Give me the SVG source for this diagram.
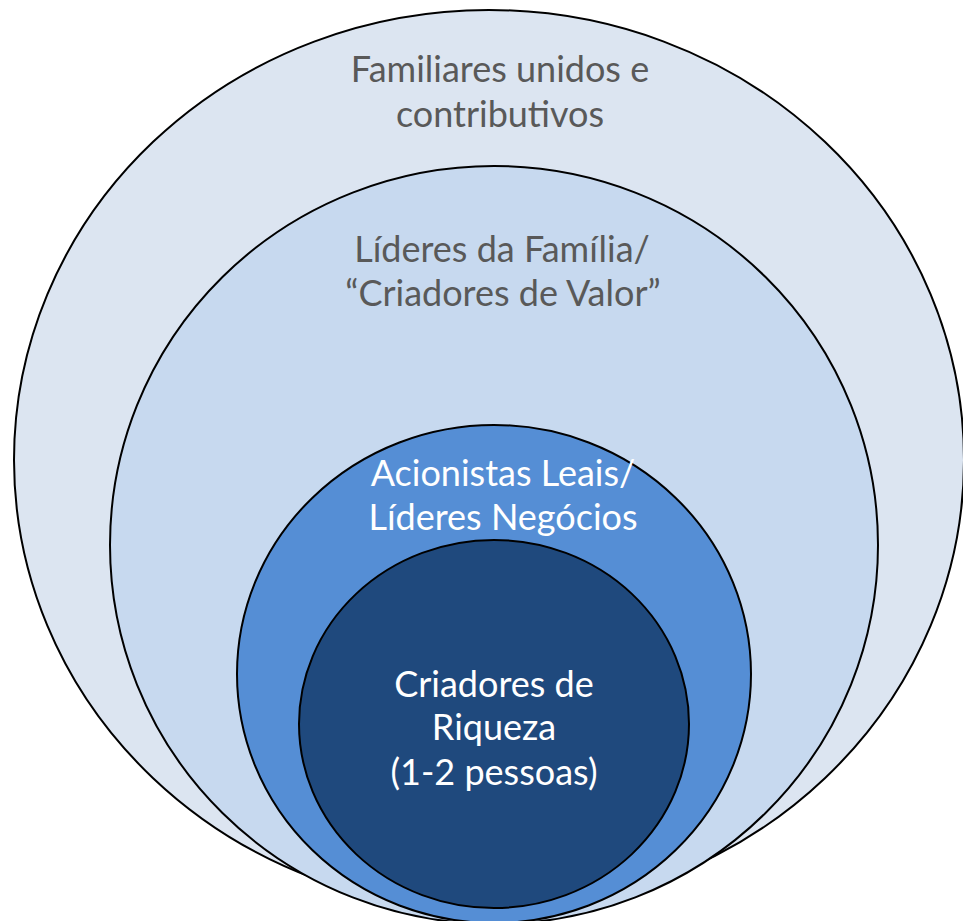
<svg xmlns="http://www.w3.org/2000/svg" width="963" height="921" viewBox="0 0 963 921">
<style>
.ring{stroke:#000;stroke-width:2}
.t{font-family:Lato,"Open Sans","Noto Sans",sans-serif;font-size:36px;text-anchor:middle}
.g{fill:#595959}
.w{fill:#ffffff}
</style>
<rect width="963" height="921" fill="#ffffff"/>
<g id="familiares">
<ellipse class="ring" cx="489" cy="460" rx="475" ry="450" fill="#DCE5F1"/>
<text class="t g" x="500" y="82">Familiares unidos e</text>
<text class="t g" x="500" y="127">contributivos</text>
</g>
<g id="lideres-familia">
<ellipse class="ring" cx="494" cy="545" rx="384" ry="379" fill="#C7D9EF"/>
<text class="t g" x="502" y="262">Líderes da Família/</text>
<text class="t g" x="503" y="306">“Criadores de Valor”</text>
</g>
<g id="acionistas">
<ellipse class="ring" cx="494" cy="674" rx="257" ry="249" fill="#558ED5"/>
<text class="t w" x="503" y="486">Acionistas Leais/</text>
<text class="t w" x="503" y="530">Líderes Negócios</text>
</g>
<g id="criadores-riqueza">
<ellipse class="ring" cx="494" cy="724" rx="195" ry="184" fill="#1F497D"/>
<text class="t w" x="494" y="697">Criadores de</text>
<text class="t w" x="494" y="740">Riqueza</text>
<text class="t w" x="494" y="785">(1-2 pessoas)</text>
</g>
<g id="connectors"/>
</svg>
